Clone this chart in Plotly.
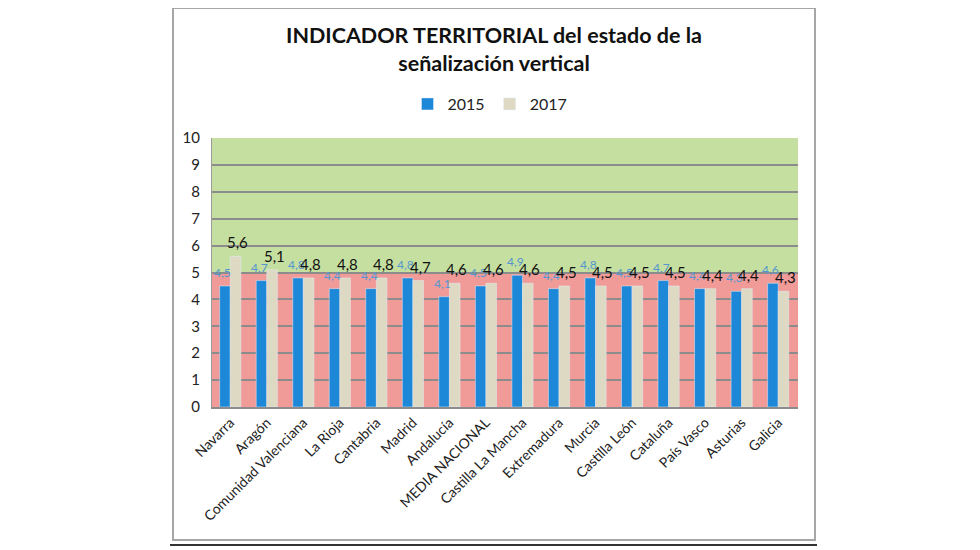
import plotly.graph_objects as go

categories = ["Navarra", "Aragón", "Comunidad Valenciana", "La Rioja", "Cantabria", "Madrid",
              "Andalucía", "MEDIA NACIONAL", "Castilla La Mancha", "Extremadura", "Murcia",
              "Castilla León", "Cataluña", "País Vasco", "Asturias", "Galicia"]
v2015 = [4.5, 4.7, 4.8, 4.4, 4.4, 4.8, 4.1, 4.5, 4.9, 4.4, 4.8, 4.5, 4.7, 4.4, 4.3, 4.6]
v2017 = [5.6, 5.1, 4.8, 4.8, 4.8, 4.7, 4.6, 4.6, 4.6, 4.5, 4.5, 4.5, 4.5, 4.4, 4.4, 4.3]

FONT = "Lato"
OFF = 8  # page body margin
BARGAP = 0.42

fig = go.Figure()
fig.add_trace(go.Bar(x=categories, y=v2015, name="2015", marker_color="#1e88d8"))
fig.add_trace(go.Bar(x=categories, y=v2017, name="2017", marker_color="#ddd9c3"))

W, H = 970, 540
L, R, T, B = 212 - OFF, 798 - OFF, 138 - OFF, 407 - OFF
pw, ph = R - L, B - T
def px(x): return (x - OFF - L) / pw
def py(y): return (B - (y - OFF)) / ph

catw = pw / len(categories)
barw = catw * (1 - BARGAP) / 2

annotations = []
for c, a, b in zip(categories, v2015, v2017):
    annotations.append(dict(x=c, y=a, xref="x", yref="y", text=f"{a:.1f}".replace(".", ","),
                            showarrow=False, xshift=-barw / 2 - 2, yshift=4, yanchor="bottom",
                            font=dict(size=12, color="#5596cf", family=FONT)))
for c, a, b in zip(categories, v2015, v2017):
    annotations.append(dict(x=c, y=b, xref="x", yref="y", text=f"{b:.1f}".replace(".", ","),
                            showarrow=False, xshift=barw / 2 + 2, yshift=3, yanchor="bottom",
                            font=dict(size=15, color="#111111", family=FONT)))

shapes = [
    dict(type="rect", xref="paper", yref="y", x0=0, x1=1, y0=0, y1=5,
         fillcolor="#f09b98", line_width=0, layer="below"),
    dict(type="rect", xref="paper", yref="y", x0=0, x1=1, y0=5, y1=10,
         fillcolor="#c4dfa0", line_width=0, layer="below"),
    dict(type="rect", xref="paper", yref="paper", x0=px(173), x1=px(815), y0=py(540), y1=py(8),
         line=dict(color="#a6a6a6", width=2), fillcolor="rgba(0,0,0,0)", layer="below"),
    dict(type="line", xref="paper", yref="paper", x0=px(170), x1=px(817), y0=py(545), y1=py(545),
         line=dict(color="#333333", width=2)),
]

fig.update_layout(
    width=W, height=H,
    margin=dict(l=L, r=W - R, t=T, b=H - B),
    paper_bgcolor="white", plot_bgcolor="rgba(0,0,0,0)",
    separators=",.",
    barmode="group", bargap=BARGAP, bargroupgap=0,
    font=dict(family=FONT, color="#222222"),
    title=dict(text="<b>INDICADOR TERRITORIAL del estado de la<br>señalización vertical</b>",
               xref="paper", x=px(494), xanchor="center",
               yref="container", y=1 - (43 - OFF) / H, yanchor="middle",
               font=dict(size=21.5, family=FONT, color="#111111")),
    showlegend=True,
    legend=dict(orientation="h", x=px(490), xanchor="center", y=py(104), yanchor="middle",
                font=dict(size=16, family=FONT, color="#222222"), itemwidth=30,
                bgcolor="rgba(0,0,0,0)"),
    shapes=shapes,
    annotations=annotations,
    yaxis=dict(range=[0, 10], dtick=1, showgrid=True, gridcolor="#8c8c8c", gridwidth=2,
               zeroline=False, showline=True, linecolor="#9a9a9a", linewidth=1,
               tickfont=dict(size=15, family=FONT, color="#222222"), ticks="",
               ticklabelstandoff=8),
    xaxis=dict(tickangle=-45, tickfont=dict(size=14, family=FONT, color="#222222"),
               showline=True, linecolor="#8c8c8c", linewidth=2, ticks=""),
)
fig.write_html("out.html")
